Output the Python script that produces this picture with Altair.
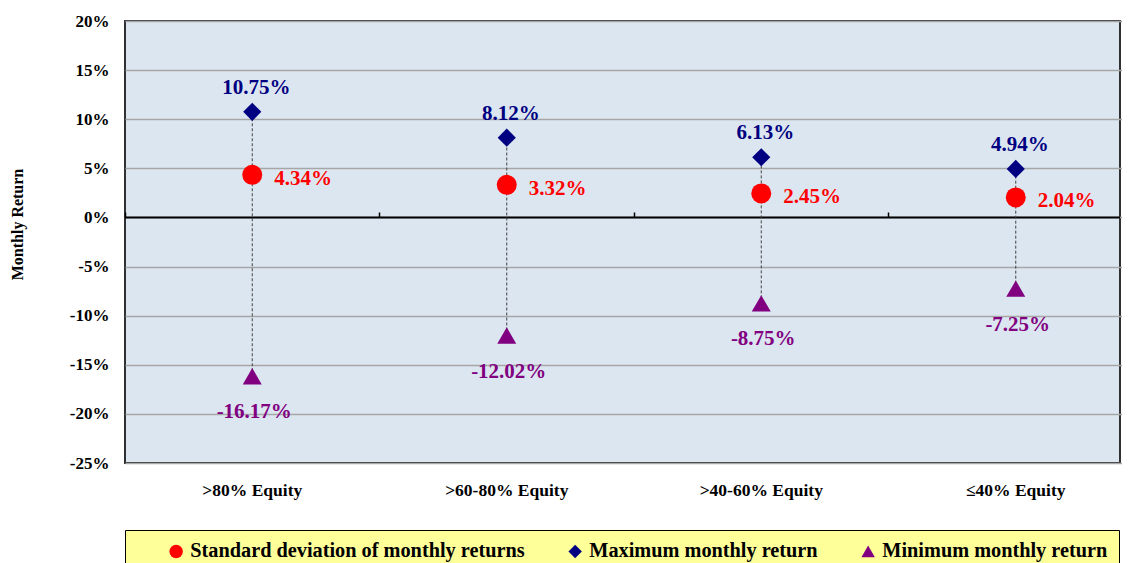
import altair as alt
import pandas as pd

categories = [">80% Equity", ">60-80% Equity", ">40-60% Equity", "≤40% Equity"]
std_vals = [4.34, 3.32, 2.45, 2.04]
max_vals = [10.75, 8.12, 6.13, 4.94]
min_vals = [-16.17, -12.02, -8.75, -7.25]
series_names = ["Standard deviation of monthly returns", "Maximum monthly return", "Minimum monthly return"]
series_colors = ["#FF0000", "#000080", "#800080"]
series_shapes = ["circle", "diamond", "triangle-up"]
series_sizes = [400, 330, 360]
y_ticks = [-0.25, -0.20, -0.15, -0.10, -0.05, 0.0, 0.05, 0.10, 0.15, 0.20]

rows = []
for i, c in enumerate(categories):
    for name, vals in zip(series_names, [std_vals, max_vals, min_vals]):
        rows.append({"cat": c, "series": name, "value": vals[i] / 100, "label": f"{vals[i]:.2f}%"})
df = pd.DataFrame(rows)
range_df = pd.DataFrame({"cat": categories,
                         "lo": [v / 100 for v in min_vals],
                         "hi": [v / 100 for v in max_vals]})
zero_df = pd.DataFrame({"z": [0.0]})

FONT = "Liberation Serif"
W, H = 995, 442
BAND_SPAN = 1018

xscale = alt.Scale(domain=categories, paddingInner=0, paddingOuter=0, range=[0, BAND_SPAN])
yscale = alt.Scale(domain=[-0.25, 0.20], nice=False, zero=False)

x_bottom = alt.X("cat:N", scale=xscale, sort=categories, title=None,
                 axis=alt.Axis(orient="bottom", domain=False, ticks=False, labelAngle=0,
                               labelFont=FONT, labelFontSize=17.5, labelFontWeight="bold",
                               labelColor="black", labelPadding=18, labelBaseline="top"))
x_none = alt.X("cat:N", scale=xscale, sort=categories, axis=None)
x_top = alt.X("cat:N", scale=xscale, sort=categories, title=None,
              axis=alt.Axis(orient="top", offset=-196, domain=False, labels=False, ticks=True,
                            tickColor="black", tickWidth=1.5, tickSize=5, bandPosition=0, grid=False))

y_axis = alt.Y("value:Q", scale=yscale, title="Monthly Return",
               axis=alt.Axis(values=y_ticks, grid=True, gridColor="#A6A6A6", gridWidth=1.5,
                             ticks=False, domain=False,
                             labelExpr="(datum.value < -0.0001 ? '-' : '') + format(abs(datum.value) * 100, '.0f') + '%'",
                             labelFont=FONT, labelFontSize=17, labelFontWeight="bold", labelColor="black",
                             labelPadding=16,
                             titleFont=FONT, titleFontSize=16, titleFontWeight="bold", titleColor="black",
                             titleX=-100, titleY=203))

legend = alt.Legend(title="\u00a0", titleOrient="left", titlePadding=30, titleFontSize=10,
                    orient="none", legendX=0, legendY=509, direction="horizontal",
                    fillColor="#FFFF99", strokeColor="black", padding=11,
                    labelFont=FONT, labelFontSize=20.3, labelFontWeight="bold", labelColor="black",
                    labelLimit=600, symbolSize=180, symbolStrokeWidth=0, columnPadding=40,
                    labelOffset=4)

base_grid = alt.Chart(df).mark_point(opacity=0).encode(x=x_bottom, y=y_axis)

zero_rule = alt.Chart(zero_df).mark_rule(color="black", strokeWidth=2).encode(
    y=alt.Y("z:Q", scale=yscale, axis=None))

ticks_layer = alt.Chart(range_df).mark_point(opacity=0).encode(x=x_top)

dashed = alt.Chart(range_df).mark_rule(color="#404040", strokeWidth=1, strokeDash=[3, 2]).encode(
    x=x_none, y=alt.Y("lo:Q", scale=yscale, axis=None), y2="hi:Q")


def point_layer(idx):
    return alt.Chart(df).transform_filter(alt.datum.series == series_names[idx]).mark_point(
        filled=True, opacity=1, strokeWidth=0, size=series_sizes[idx]).encode(
        x=x_none,
        y=alt.Y("value:Q", scale=yscale, axis=None),
        color=alt.Color("series:N", scale=alt.Scale(domain=series_names, range=series_colors), legend=legend),
        shape=alt.Shape("series:N", scale=alt.Scale(domain=series_names, range=series_shapes), legend=legend),
    )


def label_layer(idx, **kw):
    return alt.Chart(df).transform_filter(alt.datum.series == series_names[idx]).mark_text(
        font=FONT, fontSize=21, fontWeight="bold", color=series_colors[idx], **kw).encode(
        x=x_none, y=alt.Y("value:Q", scale=yscale, axis=None), text="label:N")


std_labels = label_layer(0, align="left", baseline="middle", dx=22, dy=4)
max_labels = label_layer(1, align="center", baseline="middle", dx=4, dy=-24)
min_labels = label_layer(2, align="center", baseline="middle", dx=2, dy=36)

chart = alt.layer(
    base_grid, zero_rule, ticks_layer, dashed,
    point_layer(0), point_layer(1), point_layer(2),
    std_labels, max_labels, min_labels
).resolve_axis(
    x="independent", y="independent"
).properties(
    width=W, height=H,
    autosize=alt.AutoSizeParams(type="none"),
    padding={"left": 117, "top": 13, "right": 2, "bottom": 120},
    background="white"
).configure_view(
    fill="#DCE6F1", stroke="#303030", strokeWidth=2
)

chart.save("out.html", embed_options={"renderer": "svg", "actions": False})
